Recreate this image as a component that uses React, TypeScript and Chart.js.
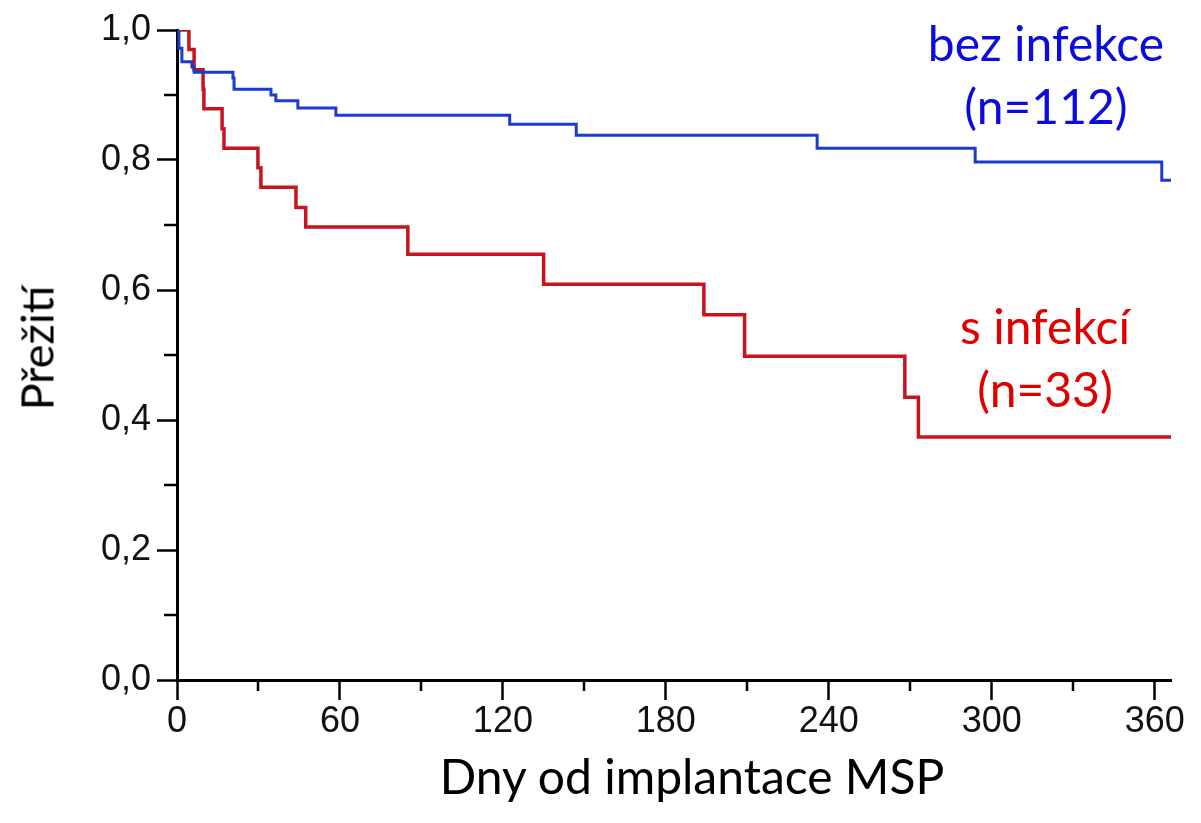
import React, { useEffect, useRef } from "react";
import { Chart, registerables } from "chart.js";

Chart.register(...registerables);

// Kaplan–Meier steps
const blueDays = [0, 0.7, 1.8, 5.5, 6.3, 20.6, 21, 34.6, 36.4, 44.5, 58.5, 122.5, 147, 235.7, 293.9, 362.6, 366];
const blueSurv = [1.0, 0.972, 0.951, 0.943, 0.935, 0.926, 0.909, 0.9, 0.891, 0.88, 0.869, 0.855, 0.838, 0.818, 0.797, 0.769, 0.769];

const redDays = [0, 4.4, 6.3, 9.6, 9.9, 16.6, 17.3, 29.8, 30.9, 43.8, 47.4, 85, 135, 194, 209, 268, 273, 366];
const redSurv = [1.0, 0.97, 0.939, 0.909, 0.879, 0.848, 0.818, 0.788, 0.758, 0.727, 0.697, 0.655, 0.609, 0.562, 0.498, 0.435, 0.374, 0.374];

const xTicks = [0, 60, 120, 180, 240, 300, 360];
const yTicks = [0, 0.2, 0.4, 0.6, 0.8, 1.0];
const xMinor = [30, 90, 150, 210, 270, 330];
const yMinor = [0.1, 0.3, 0.5, 0.7, 0.9];

const xTitle = "Dny od implantace MSP";
const yTitle = "Přežití";
const blueLabel = ["bez infekce", "(n=112)"];
const redLabel = ["s infekcí", "(n=33)"];

const minorTicksPlugin = {
  id: "minorTicks",
  afterDraw(chart: any) {
    const ctx = chart.ctx;
    const xs = chart.scales.x;
    const ys = chart.scales.y;
    const area = chart.chartArea;
    ctx.save();
    ctx.strokeStyle = "#000";
    ctx.lineWidth = 2.5;
    ctx.beginPath();
    xMinor.forEach((v) => {
      const px = Math.round(xs.getPixelForValue(v));
      ctx.moveTo(px, area.bottom);
      ctx.lineTo(px, area.bottom + 11);
    });
    yMinor.forEach((v) => {
      const py = Math.round(ys.getPixelForValue(v));
      ctx.moveTo(area.left, py);
      ctx.lineTo(area.left - 13, py);
    });
    ctx.stroke();
    ctx.restore();
  },
};

export default function App() {
  const ref = useRef<HTMLCanvasElement>(null);

  useEffect(() => {
    if (!ref.current) return;
    const chart = new Chart(ref.current, {
      type: "line",
      data: {
        datasets: [
          {
            label: "bez infekce",
            data: blueDays.map((d, i) => ({ x: d, y: blueSurv[i] })),
            borderColor: "#1a3ccc",
            borderWidth: 3,
            stepped: true,
            pointRadius: 0,
            fill: false,
          },
          {
            label: "s infekcí",
            data: redDays.map((d, i) => ({ x: d, y: redSurv[i] })),
            borderColor: "#c8141e",
            borderWidth: 3.5,
            stepped: true,
            pointRadius: 0,
            fill: false,
          },
        ],
      },
      options: {
        responsive: false,
        animation: false,
        layout: { padding: { top: 30, right: 30, left: 0, bottom: 0 } },
        plugins: { legend: { display: false }, tooltip: { enabled: false } },
        scales: {
          x: {
            type: "linear",
            min: 0,
            max: 366,
            afterBuildTicks: (s: any) => {
              s.ticks = xTicks.map((v) => ({ value: v }));
            },
            afterFit: (s: any) => {
              s.height = 143;
            },
            ticks: {
              color: "#111",
              font: { family: "Liberation Sans", size: 36 },
              padding: 0,
              maxRotation: 0,
              autoSkip: false,
              callback: (v: any) => String(v),
            },
            grid: {
              drawOnChartArea: false,
              drawTicks: true,
              tickLength: 20,
              tickWidth: 2.5,
              tickColor: "#000",
            },
            border: { display: true, color: "#000", width: 3 },
          },
          y: {
            type: "linear",
            min: 0,
            max: 1,
            afterBuildTicks: (s: any) => {
              s.ticks = yTicks.map((v) => ({ value: v }));
            },
            afterFit: (s: any) => {
              s.width = 177;
            },
            ticks: {
              color: "#111",
              font: { family: "Liberation Sans", size: 36 },
              padding: 6,
              autoSkip: false,
              callback: (v: any) => Number(v).toFixed(1).replace(".", ","),
            },
            grid: {
              drawOnChartArea: false,
              drawTicks: true,
              tickLength: 20,
              tickWidth: 2.5,
              tickColor: "#000",
            },
            border: { display: true, color: "#000", width: 3 },
          },
        },
      },
      plugins: [minorTicksPlugin],
    });
    return () => chart.destroy();
  }, []);

  const font = "Lato, 'Open Sans', sans-serif";
  const label = (text: string, cx: number, cy: number, color: string, size = 48) => (
    <div
      style={{
        position: "absolute",
        left: cx,
        top: cy,
        transform: "translate(-50%, -50%)",
        color,
        fontFamily: font,
        fontSize: size,
        lineHeight: 1,
        whiteSpace: "nowrap",
      }}
    >
      {text}
    </div>
  );

  return (
    <div style={{ position: "fixed", left: 0, top: 0, width: 1201, height: 823, background: "#fff" }}>
      <canvas ref={ref} width={1201} height={823} style={{ position: "absolute", left: 0, top: 0 }} />
      {label(blueLabel[0], 1046, 43, "#0b0be0")}
      {label(blueLabel[1], 1046, 106, "#0b0be0")}
      {label(redLabel[0], 1045, 326, "#e00000")}
      {label(redLabel[1], 1045, 389, "#e00000")}
      {label(xTitle, 692, 776, "#000")}
      <div
        style={{
          position: "absolute",
          left: 37,
          top: 348,
          transform: "translate(-50%, -50%) rotate(-90deg)",
          fontFamily: font,
          fontSize: 45,
          lineHeight: 1,
          whiteSpace: "nowrap",
          color: "#000",
        }}
      >
        {yTitle}
      </div>
    </div>
  );
}
